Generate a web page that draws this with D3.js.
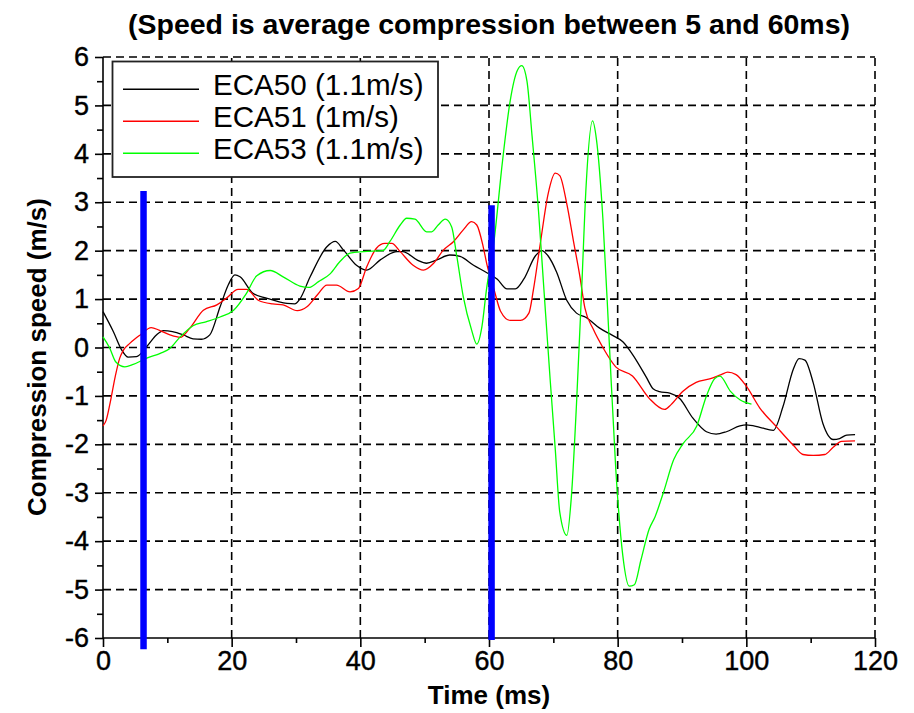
<!DOCTYPE html>
<html>
<head>
<meta charset="utf-8">
<script src="https://cdn.jsdelivr.net/npm/d3@7"></script>
<style>
  html, body { margin: 0; padding: 0; background: #fff; }
  svg { display: block; font-family: "Liberation Sans", Arial, sans-serif; }
</style>
</head>
<body>
<svg id="chart" width="914" height="713"></svg>
<script>
// ---------- data ----------
const titleText = "(Speed is average compression between 5 and 60ms)";
const xLabel = "Time (ms)";
const yLabel = "Compression speed (m/s)";
const xTicks = [0, 20, 40, 60, 80, 100, 120];
const xMinorTicks = [10, 30, 50, 70, 90, 110];
const yTicks = [-6, -5, -4, -3, -2, -1, 0, 1, 2, 3, 4, 5, 6];
const yMinorTicks = [-5.5, -4.5, -3.5, -2.5, -1.5, -0.5, 0.5, 1.5, 2.5, 3.5, 4.5, 5.5];

const seriesNames = ["ECA50 (1.1m/s)", "ECA51 (1m/s)", "ECA53 (1.1m/s)"];

const eca50T = [0,1.6,2.9,3.9,5.2,6.8,8.3,9.4,10.8,12.5,14,15.3,16.6,18.2,19.5,20.5,21.3,23.3,25.4,28.6,29.8,30.6,32.2,34.8,36.1,37.4,39.4,41,43.1,45.7,46.6,48.8,50.3,51.9,53.9,55.5,57.6,59.6,61.3,62.8,64.1,65.4,67.2,68.2,69.2,70.5,72.1,73.6,75.1,77.2,79.2,80.8,82.3,84.4,85.5,86.5,88.1,89.6,91.7,93.8,95.3,96.9,99,100,102.1,104.2,105.7,107.3,108.2,109.1,110.4,111.9,113.5,114.5,115.6,116.9];
const eca50V = [0.74,0.33,-0.05,-0.2,-0.19,0.02,0.26,0.35,0.33,0.26,0.18,0.17,0.26,0.84,1.3,1.5,1.46,1.12,1.02,0.91,0.9,1.0,1.46,2.08,2.19,2.01,1.70,1.6,1.81,1.98,1.98,1.81,1.74,1.81,1.91,1.88,1.70,1.55,1.41,1.21,1.21,1.41,1.89,2.0,1.89,1.56,0.97,0.71,0.62,0.4,0.25,0.12,-0.14,-0.6,-0.85,-0.91,-0.94,-1.05,-1.46,-1.74,-1.79,-1.74,-1.62,-1.60,-1.65,-1.71,-1.22,-0.45,-0.23,-0.26,-0.73,-1.57,-1.90,-1.88,-1.81,-1.80];

const eca51T = [0,0.5,1.1,1.9,2.6,3.2,4.2,5.8,7.5,8.7,10.4,12,13.5,15.6,17.7,19.2,21,22.3,24.2,26.4,28,30.2,31.7,33.4,34.8,36.3,38.4,39.7,41,42.5,43.8,44.9,46.2,48.2,49.8,51.4,52.9,54.5,56,57.3,58.1,59.1,59.7,60.8,61.8,63.3,64.9,66.2,66.9,67.9,69.2,70.3,71,72.1,73.1,74.1,74.9,76.2,77.7,79.7,82.3,84.9,87.3,88.3,90.1,92.2,94.3,96.1,97.1,98.4,100,102.1,104.7,107.3,108.8,110.4,112.2,113.5,114.8,116.9];
const eca51V = [-1.62,-1.5,-1.15,-0.6,-0.22,-0.05,0.09,0.26,0.41,0.36,0.26,0.21,0.4,0.77,0.88,1.02,1.2,1.2,0.97,0.9,0.88,0.76,0.84,1.1,1.29,1.29,1.15,1.22,1.67,2.05,2.15,2.15,1.98,1.70,1.6,1.74,2.01,2.19,2.43,2.6,2.53,2.08,1.7,1.19,0.75,0.56,0.56,0.71,1.19,2.08,3.18,3.6,3.55,2.96,2.22,1.49,0.82,0.38,0.0,-0.4,-0.59,-1.05,-1.28,-1.18,-0.91,-0.72,-0.65,-0.56,-0.51,-0.56,-0.8,-1.25,-1.64,-2.02,-2.21,-2.23,-2.21,-2.06,-1.94,-1.93];

const eca53T = [0,1,2,3.4,4.7,6.8,8.9,10.4,12,14,16,18.2,20.3,22.3,23.9,26,28,30.6,32,33.5,35.3,36.8,38.4,40.5,43.5,44.6,46.2,47.2,48.5,50.3,51.1,52.1,53.2,54.2,55,56,57.3,58.1,58.9,59.6,60.8,62.1,63.3,64.4,65.1,65.9,66.7,67.7,68.5,69.5,70.3,71,72.1,72.8,73.6,74.4,75.1,76.1,76.7,77.7,78.7,79.7,80.8,81.8,82.6,83.6,84.9,85.8,87.1,88.7,90.2,92.3,93.8,95.1,95.9,97.5,99,100.8];
const eca53V = [0.22,0.0,-0.3,-0.4,-0.35,-0.22,-0.12,-0.02,0.22,0.45,0.53,0.63,0.77,1.12,1.48,1.59,1.46,1.27,1.24,1.36,1.52,1.77,1.95,1.98,2.0,2.19,2.53,2.67,2.65,2.39,2.39,2.53,2.65,2.49,1.88,1.05,0.36,0.07,0.43,1.19,2.22,3.85,5.1,5.72,5.82,5.5,4.36,2.81,1.27,-0.65,-2.1,-3.4,-3.88,-3.09,-1.17,1.19,3.35,4.68,4.3,2.67,0.09,-2.5,-4.3,-4.93,-4.9,-4.4,-3.75,-3.5,-3.0,-2.32,-1.98,-1.62,-1.0,-0.64,-0.59,-0.9,-1.08,-1.17];

// window markers (blue bars)
const markerT = [6.3, 60.4];
const markerTop = [3.23, 2.94];
const markerBottom = [-6.23, -6.04];

// ---------- chart ----------
const seriesColors = ["#000000", "#ff0000", "#00ff00"];
const series = [
  { name: seriesNames[0], t: eca50T, v: eca50V, color: seriesColors[0] },
  { name: seriesNames[1], t: eca51T, v: eca51V, color: seriesColors[1] },
  { name: seriesNames[2], t: eca53T, v: eca53V, color: seriesColors[2] }
];

const svg = d3.select("#chart");
const x = d3.scaleLinear().domain([0, 120]).range([103, 875]);
const y = d3.scaleLinear().domain([-6, 6]).range([638, 57]);

// grid
const grid = svg.append("g").attr("stroke", "#000").attr("stroke-width", 1.6).attr("stroke-dasharray", "8,5");
grid.selectAll("line.h").data(yTicks.filter(d => d > -6)).join("line")
  .attr("x1", x(0)).attr("x2", x(120)).attr("y1", d => y(d)).attr("y2", d => y(d));
grid.selectAll("line.v").data(xTicks.filter(d => d > 0)).join("line")
  .attr("y1", y(-6)).attr("y2", y(6)).attr("x1", d => x(d)).attr("x2", d => x(d));

// axes
const xAxis = d3.axisBottom(x).tickValues(xTicks).tickSize(9).tickPadding(4).tickFormat(d3.format("d"));
const gx = svg.append("g").attr("transform", `translate(0,${y(-6)})`).call(xAxis);
gx.select(".domain").attr("d", `M${x(0)},0H${x(120)}`).attr("stroke-width", 1.6);
const xMinor = d3.axisBottom(x).tickValues(xMinorTicks).tickSize(5).tickFormat("");
const gxm = svg.append("g").attr("transform", `translate(0,${y(-6)})`).call(xMinor);
gxm.select(".domain").remove();

const yAxis = d3.axisLeft(y).tickValues(yTicks).tickSize(8).tickPadding(6).tickFormat(d3.format("d"));
const gy = svg.append("g").attr("transform", `translate(${x(0)},0)`).call(yAxis);
gy.select(".domain").attr("d", `M0,${y(-6)}V${y(6)}`).attr("stroke-width", 1.6);
const yMinor = d3.axisLeft(y).tickValues(yMinorTicks).tickSize(6).tickFormat("");
const gym = svg.append("g").attr("transform", `translate(${x(0)},0)`).call(yMinor);
gym.select(".domain").remove();

[gx, gy, gxm, gym].forEach(g => g.selectAll(".tick line").attr("stroke-width", 1.6));
[gx, gy].forEach(g => g.selectAll("text")
  .attr("font-size", 27).attr("font-family", "'Liberation Sans', Arial, sans-serif")
  .attr("fill", "#000").attr("stroke", "#000").attr("stroke-width", 0.4));
gy.selectAll("text").text(d => d < 0 ? "-" + Math.abs(d) : d);

// data lines
const line = d3.line().x(d => x(d[0])).y(d => y(d[1])).curve(d3.curveMonotoneX);
svg.append("g").selectAll("path").data(series).join("path")
  .attr("d", s => line(s.t.map((t, i) => [t, s.v[i]])))
  .attr("fill", "none").attr("stroke", s => s.color).attr("stroke-width", 1.3)
  .attr("stroke-linejoin", "round");

// blue markers
svg.append("g").selectAll("line").data(markerT).join("line")
  .attr("x1", d => x(d)).attr("x2", d => x(d))
  .attr("y1", (d, i) => y(markerTop[i])).attr("y2", (d, i) => y(markerBottom[i]))
  .attr("stroke", "#0000ff").attr("stroke-width", 6.5);

// legend
const lg = svg.append("g");
lg.append("rect").attr("x", 112.5).attr("y", 61.5).attr("width", 325.5).attr("height", 115.5)
  .attr("fill", "#fff").attr("stroke", "#222").attr("stroke-width", 1.8);
const rows = lg.selectAll("g.row").data(series).join("g")
  .attr("transform", (d, i) => `translate(0,${89.3 + i * 32})`);
rows.append("line").attr("x1", 123).attr("x2", 199).attr("y1", 0).attr("y2", 0)
  .attr("stroke", d => d.color).attr("stroke-width", 1.6);
rows.append("text").attr("x", 213).attr("y", 5.5).attr("font-size", 29.6).attr("fill", "#000")
  .text(d => d.name);

// titles
svg.append("text").attr("x", 489).attr("y", 34).attr("text-anchor", "middle")
  .attr("font-size", 27).attr("font-weight", "bold")
  .attr("textLength", 722).attr("lengthAdjust", "spacingAndGlyphs").text(titleText);
svg.append("text").attr("x", 489).attr("y", 704).attr("text-anchor", "middle")
  .attr("font-size", 26).attr("font-weight", "bold").text(xLabel);
svg.append("text").attr("transform", "translate(46,357) rotate(-90)").attr("text-anchor", "middle")
  .attr("font-size", 26).attr("font-weight", "bold").text(yLabel);
</script>
</body>
</html>
